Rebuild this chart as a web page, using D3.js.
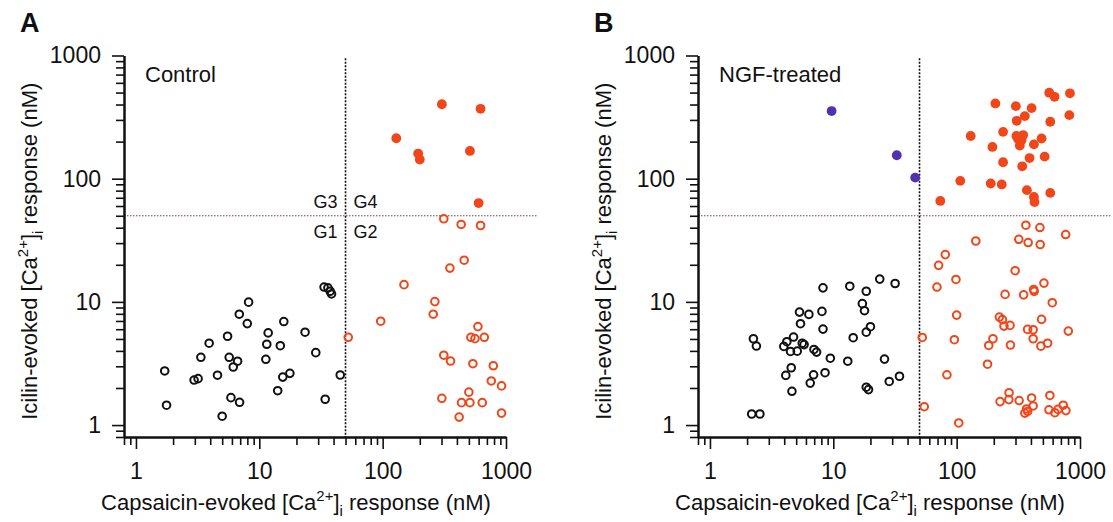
<!DOCTYPE html>
<html>
<head>
<meta charset="utf-8">
<script src="https://cdn.jsdelivr.net/npm/d3@7"></script>
<style>
  body { margin: 0; background: #fff; }
  svg { display: block; font-family: "Liberation Sans", Arial, sans-serif; }
</style>
</head>
<body>
<div id="chart"></div>
<script>
// tick values for both log axes
const majorTicks = [1, 10, 100, 1000]
const minorTicks = [0.8, 0.9, 2, 3, 4, 5, 6, 7, 8, 9, 20, 30, 40, 50, 60, 70, 80, 90, 200, 300, 400, 500, 600, 700, 800, 900]
const threshold = 50

// panel A (Control): [capsaicin, icilin] in nM
const controlG1 = [
  [1.71, 2.75], [1.77, 1.45], [2.96, 2.32], [3.19, 2.38], [3.36, 3.55], [3.92, 4.62],
  [4.58, 2.54], [5.0, 1.18], [5.53, 5.26], [5.7, 3.55], [5.89, 1.67], [6.15, 2.96],
  [6.67, 3.3], [6.88, 7.94], [6.92, 1.53], [7.99, 6.66], [8.19, 9.95], [11.3, 3.42],
  [11.5, 4.53], [11.8, 5.6], [14.1, 1.9], [14.8, 4.41], [15.5, 2.45], [15.8, 6.92],
  [17.7, 2.63], [23.5, 5.67], [28.7, 3.87], [34.2, 1.62], [33.5, 13.2], [36, 13.0],
  [37.5, 12.2], [38.5, 11.6], [45.3, 2.55]
]
const controlG2 = [
  [313, 47.3], [433, 42.5], [622, 41.7], [458, 21.8], [351, 18.8], [149, 13.8],
  [265, 10.05], [257, 7.94], [96.4, 6.97], [52.6, 5.16], [592, 6.3], [519, 5.16],
  [560, 5.03], [667, 5.16], [313, 3.69], [355, 3.31], [539, 3.15], [789, 3.03],
  [760, 2.28], [920, 2.08], [302, 1.65], [500, 1.85], [436, 1.52], [510, 1.52],
  [642, 1.52], [417, 1.16], [920, 1.25]
]
const controlG4 = [
  [302, 402], [622, 369], [129, 213], [194, 160], [200, 143], [510, 168], [600, 63.4]
]

// panel B (NGF-treated)
const ngfG1 = [
  [8.25, 13.0], [13.6, 13.4], [18.5, 12.2], [23.8, 15.3], [31.7, 14.1], [17.2, 9.67],
  [17.9, 8.48], [5.32, 8.26], [6.34, 7.91], [8.09, 8.37], [5.42, 6.65], [8.25, 6.01],
  [20, 6.29], [18.5, 5.68], [14.5, 5.12], [2.25, 5.02], [2.38, 4.38], [3.97, 4.35],
  [4.2, 4.75], [4.76, 5.18], [4.5, 3.96], [5.1, 3.98], [5.6, 4.62], [5.8, 4.5],
  [6.97, 4.11], [7.32, 3.91], [9.46, 3.49], [13.1, 3.3], [26, 3.43], [4.56, 2.92],
  [4.12, 2.53], [6.92, 2.56], [6.5, 2.19], [8.57, 2.66], [4.62, 1.88], [18.5, 2.03],
  [19.3, 1.94], [28.4, 2.26], [34.4, 2.49], [2.18, 1.23], [2.54, 1.23]
]
const ngfG2 = [
  [364, 41.9], [473, 40.1], [765, 35.2], [143, 31.2], [319, 32.2], [380, 30.3],
  [476, 29.2], [80.9, 24.2], [71.4, 19.8], [298, 17.9], [69.2, 13.2], [98.7, 15.2],
  [510, 14.2], [421, 12.6], [425, 12.2], [247, 11.5], [349, 11.4], [596, 9.85],
  [100, 7.81], [222, 7.52], [235, 7.17], [488, 7.21], [242, 6.36], [271, 6.44],
  [804, 5.79], [376, 5.98], [417, 5.94], [417, 5.02], [546, 4.62], [482, 4.37],
  [197, 5.02], [182, 4.43], [273, 4.46], [52.6, 5.14], [95.8, 4.93], [178, 3.12],
  [83.4, 2.56], [266, 1.83], [225, 1.55], [265, 1.61], [321, 1.58], [405, 1.66],
  [417, 1.43], [369, 1.35], [357, 1.25], [376, 1.29], [570, 1.74], [560, 1.33],
  [626, 1.26], [731, 1.45], [769, 1.31], [663, 1.34], [54.6, 1.41], [104, 1.04]
]
const ngfG3 = [[9.69, 354], [32.7, 155], [46.1, 102]]
const ngfG4 = [
  [563, 499], [622, 462], [829, 493], [206, 408], [302, 388], [405, 374], [357, 322],
  [307, 295], [819, 328], [574, 290], [130, 222], [238, 240], [305, 222], [346, 226],
  [336, 206], [325, 186], [423, 190], [488, 212], [195, 181], [517, 151], [390, 147],
  [238, 136], [340, 126], [107, 96], [189, 91.4], [232, 89.8], [371, 80.7], [423, 71.1],
  [428, 64.7], [574, 76.7], [73.7, 66], [315, 210]
]

const orange = "#f0461a"
const blue = "#4f32b0"

const svg = d3.select("#chart").append("svg")
  .attr("width", 1113)
  .attr("height", 522)

function drawPanel(offsetX, letter, title, groups) {
  const g = svg.append("g").attr("transform", `translate(${offsetX},0)`)

  const x = d3.scaleLog().domain([0.8, 1000]).range([124, 506])
  const y = d3.scaleLog().domain([0.8, 1000]).range([437, 55.5])

  // threshold lines
  g.append("line")
    .attr("x1", x(0.8)).attr("x2", x(1800))
    .attr("y1", y(threshold)).attr("y2", y(threshold))
    .attr("stroke", "#5a4844").attr("stroke-width", 1)
    .attr("stroke-dasharray", "1.5,1.5")
  g.append("line")
    .attr("x1", x(threshold)).attr("x2", x(threshold))
    .attr("y1", y(950)).attr("y2", y(0.8))
    .attr("stroke", "#111").attr("stroke-width", 1.6)
    .attr("stroke-dasharray", "2,1.5")

  // axes
  const yMinor = g.append("g")
    .attr("transform", `translate(${x(0.8)},0)`)
    .call(d3.axisLeft(y).tickValues(minorTicks).tickSize(8).tickSizeOuter(0).tickFormat(""))
  const yMajor = g.append("g")
    .attr("transform", `translate(${x(0.8)},0)`)
    .call(d3.axisLeft(y).tickValues(majorTicks).tickSize(12).tickSizeOuter(0).tickPadding(11).tickFormat(d3.format("d")))
  const xMinor = g.append("g")
    .attr("transform", `translate(0,${y(0.8)})`)
    .call(d3.axisBottom(x).tickValues(minorTicks).tickSize(8).tickSizeOuter(0).tickFormat(""))
  const xMajor = g.append("g")
    .attr("transform", `translate(0,${y(0.8)})`)
    .call(d3.axisBottom(x).tickValues(majorTicks).tickSize(12).tickSizeOuter(0).tickPadding(14).tickFormat(d3.format("d")))

  for (const ax of [yMinor, yMajor, xMinor, xMajor]) {
    ax.select(".domain").attr("stroke", "#111").attr("stroke-width", 2)
    ax.selectAll(".tick line").attr("stroke", "#111").attr("stroke-width", 1.6)
    ax.selectAll("text").attr("fill", "#111").style("font-size", "23px")
      .style("font-family", "Liberation Sans, Arial, sans-serif")
  }

  // points
  for (const grp of groups) {
    g.append("g").selectAll("circle")
      .data(grp.data)
      .join("circle")
      .attr("cx", d => x(d[0]))
      .attr("cy", d => y(d[1]))
      .attr("r", grp.filled ? 4.9 : 3.8)
      .attr("fill", grp.filled ? grp.color : "none")
      .attr("stroke", grp.color)
      .attr("stroke-width", grp.filled ? 0 : 2)
  }

  // labels
  g.append("text").attr("x", 20).attr("y", 32)
    .style("font-size", "27px").style("font-weight", "bold").attr("fill", "#111")
    .text(letter)
  g.append("text").attr("x", 145).attr("y", 82)
    .style("font-size", "22px").attr("fill", "#111")
    .text(title)

  const yt = g.append("text")
    .attr("transform", `translate(37,${(y(0.8) + y(1000)) / 2 + 5}) rotate(-90)`)
    .attr("text-anchor", "middle")
    .style("font-size", "22px").attr("fill", "#111")
  yt.append("tspan").text("Icilin-evoked [Ca")
  yt.append("tspan").attr("dy", -9).style("font-size", "15px").text("2+")
  yt.append("tspan").attr("dy", 9).text("]")
  yt.append("tspan").attr("dy", 6).style("font-size", "15px").text("i")
  yt.append("tspan").attr("dy", -6).text(" response (nM)")

  const xt = g.append("text")
    .attr("x", 296).attr("y", 510)
    .attr("text-anchor", "middle")
    .style("font-size", "22px").attr("fill", "#111")
  xt.append("tspan").text("Capsaicin-evoked [Ca")
  xt.append("tspan").attr("dy", -9).style("font-size", "15px").text("2+")
  xt.append("tspan").attr("dy", 9).text("]")
  xt.append("tspan").attr("dy", 6).style("font-size", "15px").text("i")
  xt.append("tspan").attr("dy", -6).text(" response (nM)")

  return {g, x, y}
}

const panelA = drawPanel(0, "A", "Control", [
  {data: controlG1, color: "#111", filled: false},
  {data: controlG2, color: orange, filled: false},
  {data: controlG4, color: orange, filled: true}
])

// quadrant names only on panel A
const quad = [["G3", -1, 208], ["G4", 1, 208], ["G1", -1, 238], ["G2", 1, 238]]
panelA.g.selectAll(".quad")
  .data(quad)
  .join("text")
  .attr("class", "quad")
  .attr("x", d => panelA.x(threshold) + d[1] * 8)
  .attr("y", d => d[2])
  .attr("text-anchor", d => d[1] < 0 ? "end" : "start")
  .style("font-size", "18px").attr("fill", "#111")
  .text(d => d[0])

drawPanel(574, "B", "NGF-treated", [
  {data: ngfG1, color: "#111", filled: false},
  {data: ngfG2, color: orange, filled: false},
  {data: ngfG3, color: blue, filled: true},
  {data: ngfG4, color: orange, filled: true}
])
</script>
</body>
</html>
